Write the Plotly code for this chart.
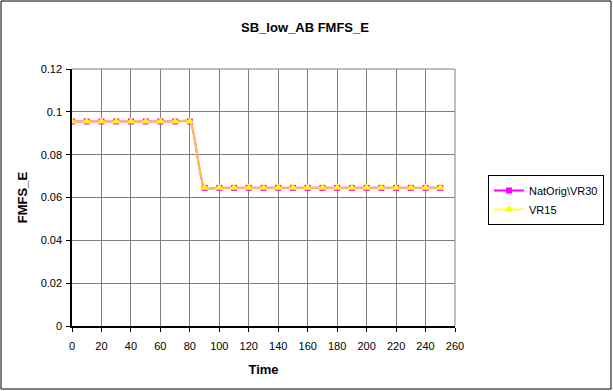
import plotly.graph_objects as go

time = [0, 10, 20, 30, 40, 50, 60, 70, 80, 90, 100, 110, 120, 130, 140, 150, 160,
        170, 180, 190, 200, 210, 220, 230, 240, 250]
nat_orig_vr30 = [0.0955] * 9 + [0.0645] * 17
vr15 = [0.0955] * 9 + [0.0645] * 17

W, H = 613, 391
L, R, T, B = 72, 158, 69, 65
pw, ph = W - L - R, H - T - B

fig = go.Figure()
fig.add_trace(go.Scatter(
    x=time, y=nat_orig_vr30, name="NatOrig\\VR30", mode="lines+markers",
    line=dict(color="#FF00FF", width=2, shape="spline", smoothing=0.6),
    marker=dict(symbol="square", size=6, color="#FF00FF"),
))
fig.add_trace(go.Scatter(
    x=time, y=vr15, name="VR15", mode="lines+markers",
    line=dict(color="rgba(255,255,0,0.75)", width=2, shape="spline", smoothing=0.6),
    marker=dict(symbol="triangle-up", size=8, color="#FFFF00"),
))

fig.add_shape(type="rect", xref="paper", yref="paper",
              x0=(1 - L) / pw, x1=(611 - L) / pw,
              y0=(T + ph - 389) / ph, y1=(T + ph - 1) / ph,
              line=dict(color="black", width=1), layer="below")

fig.update_layout(
    width=W, height=H,
    margin=dict(l=L, r=R, t=T, b=B, autoexpand=False),
    paper_bgcolor="white", plot_bgcolor="white",
    font=dict(family="Liberation Sans, Arial", size=11, color="black"),
    title=dict(text="<b>SB_low_AB FMFS_E</b>", x=305 / W, xanchor="center",
               y=1 - 27 / H, yanchor="middle", font=dict(size=13)),
    xaxis=dict(range=[0, 260], tickvals=list(range(0, 261, 20)), automargin=False,
               showgrid=True, gridcolor="#808080", gridwidth=1,
               showline=True, linecolor="black", linewidth=1.5,
               ticks="outside", ticklen=4, tickcolor="black", ticklabelstandoff=5,
               title=dict(text="<b>Time</b>", standoff=14), zeroline=False),
    yaxis=dict(range=[0, 0.12], tickvals=[0, 0.02, 0.04, 0.06, 0.08, 0.1, 0.12],
               ticktext=["0", "0.02", "0.04", "0.06", "0.08", "0.1", "0.12"], automargin=False,
               showgrid=True, gridcolor="#808080", gridwidth=1,
               showline=True, linecolor="black", linewidth=1.5,
               ticks="outside", ticklen=4, tickcolor="black", ticklabelstandoff=2,
               title=dict(text="<b>FMFS_E</b>", standoff=10), zeroline=False),
    legend=dict(x=(488 - L) / pw, y=(T + ph - 175) / ph, xanchor="left", yanchor="top",
                bordercolor="black", borderwidth=1, bgcolor="white",
                font=dict(size=11), itemwidth=30, tracegroupgap=2),
    showlegend=True,
)
fig.add_shape(type="line", xref="paper", yref="paper", x0=1, x1=1, y0=0, y1=1,
              line=dict(color="#808080", width=1))
fig.add_shape(type="line", xref="paper", yref="paper", x0=0, x1=1, y0=1, y1=1,
              line=dict(color="#808080", width=1))

fig.write_html("out.html", config={"displayModeBar": False},
               post_script="document.body.style.margin='0';document.body.style.overflow='hidden';")
